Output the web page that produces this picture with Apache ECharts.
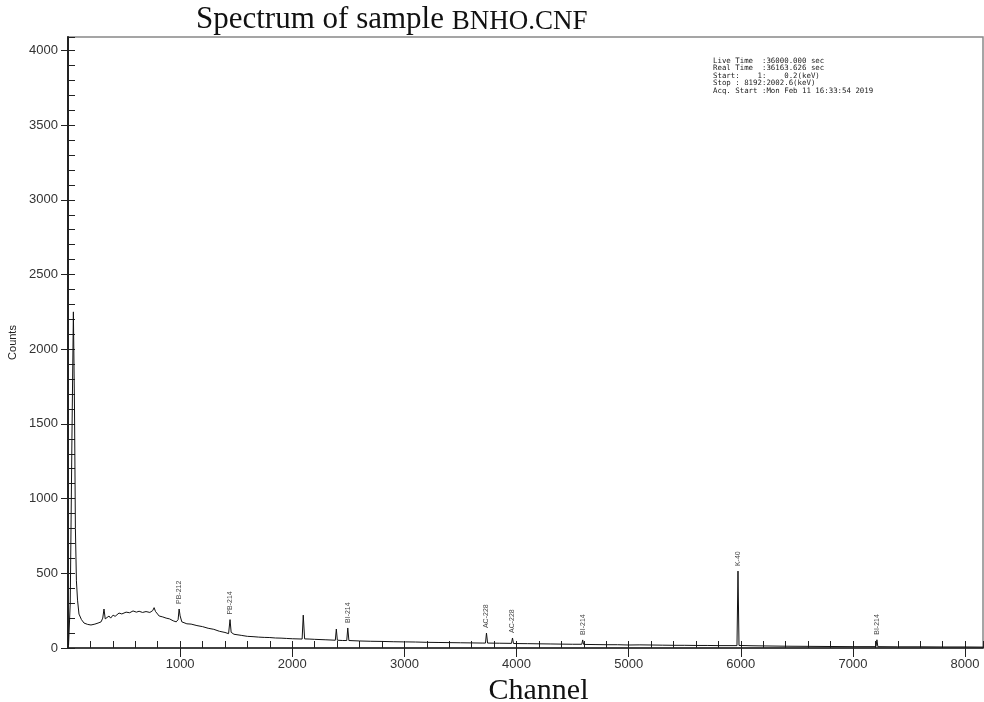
<!DOCTYPE html>
<html>
<head>
<meta charset="utf-8">
<script src="https://cdn.jsdelivr.net/npm/echarts@6/dist/echarts.min.js"></script>
<style>
  html, body { margin: 0; padding: 0; background: #fff; }
  #charts { width: 984px; height: 702px; }
</style>
</head>
<body>
<div id="charts"></div>
<script>
// spectrum (channel -> counts)
const channels = [
  5, 20, 35, 48, 58, 66, 75, 85, 98, 120, 143, 175, 205, 240, 268, 295, 310, 321, 332, 345,
  366, 380, 402, 420, 455, 480, 518, 550, 580, 610, 634, 665, 696, 730, 755, 768, 780, 813, 845, 875,
  905, 938, 965, 982, 991, 1000, 1015, 1027, 1060, 1098, 1150, 1200, 1250, 1300, 1350, 1400, 1432, 1445, 1455, 1480,
  1550, 1600, 1650, 1700, 1750, 1800, 1850, 1900, 1950, 2000, 2088, 2098, 2110, 2150, 2200, 2300, 2384, 2393, 2402, 2450,
  2486, 2495, 2505, 2600, 2700, 2800, 2900, 2990, 3000, 3010, 3100, 3200, 3300, 3400, 3500, 3600, 3700, 3723, 3732, 3742,
  3850, 3955, 3964, 3973, 4100, 4200, 4300, 4400, 4500, 4582, 4590, 4598, 4700, 4800, 4900, 5000, 5100, 5200, 5300, 5400,
  5500, 5600, 5700, 5800, 5966, 5975, 5984, 6100, 6200, 6400, 6600, 6800, 7000, 7206, 7214, 7222, 7400, 7600, 7800, 8000,
  8160
]
const counts = [
  20, 300, 1400, 2250, 1600, 800, 450, 320, 227, 190, 167, 158, 154, 160, 167, 175, 200, 261, 195, 185,
  214, 200, 220, 212, 234, 228, 240, 236, 248, 240, 246, 238, 244, 238, 250, 270, 245, 214, 208, 200,
  195, 182, 175, 190, 261, 215, 175, 167, 162, 160, 150, 143, 132, 125, 112, 104, 96, 190, 105, 92,
  84, 78, 76, 73, 71, 70, 67, 66, 64, 62, 60, 220, 61, 60, 58, 55, 52, 127, 52, 50,
  50, 134, 50, 47, 45, 44, 42, 41, 50, 41, 40, 38, 37, 36, 35, 34, 33, 33, 100, 33,
  32, 31, 67, 30, 29, 28, 27, 26, 25, 25, 54, 24, 23, 22, 22, 20, 21, 20, 19, 18,
  18, 17, 17, 16, 16, 515, 17, 15, 14, 12, 11, 10, 9, 9, 55, 9, 8, 8, 7, 7,
  6
]

// labelled peaks
const peakNames = ['PB-212', 'PB-214', 'BI-214', 'AC-228', 'AC-228', 'BI-214', 'K-40', 'BI-214']
const peakChannels = [991, 1445, 2495, 3732, 3964, 4590, 5975, 7214]
const peakCounts = [261, 190, 134, 100, 67, 54, 515, 55]

const infoLines = [
  'Live Time  :36000.000 sec',
  'Real Time  :36163.626 sec',
  'Start:    1:    0.2(keV)',
  'Stop : 8192:2002.6(keV)',
  'Acq. Start :Mon Feb 11 16:33:54 2019'
]

const chart = echarts.init(document.getElementById('charts'))

const specData = channels.map((c, i) => [c, counts[i]])
const peakData = peakChannels.map((c, i) => ({name: peakNames[i], value: [c, peakCounts[i]]}))

const tickFont = {fontFamily: 'Liberation Sans', fontSize: 13, color: '#333'}
const plain = v => String(v)

chart.setOption({
  animation: false,
  backgroundColor: '#fff',
  title: [
    {
      text: '{a|Spectrum of sample }{b|BNHO.CNF}',
      left: 196,
      top: 1,
      padding: 0,
      textStyle: {
        rich: {
          a: {fontFamily: 'Liberation Serif', fontSize: 31, fontWeight: 'normal', color: '#111', verticalAlign: 'bottom', lineHeight: 34},
          b: {fontFamily: 'Liberation Serif', fontSize: 27, fontWeight: 'normal', color: '#111', verticalAlign: 'bottom', lineHeight: 31.5}
        }
      }
    },
    {
      text: infoLines.join('\n'),
      left: 713,
      top: 57,
      padding: 0,
      textStyle: {fontFamily: 'DejaVu Sans Mono', fontSize: 7.4, fontWeight: 'normal', color: '#222', lineHeight: 7.5}
    }
  ],
  grid: {
    left: 68,
    right: 1,
    top: 37,
    bottom: 54,
    outerBoundsMode: 'none',
    show: true,
    borderColor: '#888',
    borderWidth: 1.5
  },
  xAxis: [
    {
      type: 'value',
      position: 'bottom',
      min: 0,
      max: 8160,
      interval: 1000,
      name: 'Channel',
      nameLocation: 'middle',
      nameGap: 14,
      nameTextStyle: {fontFamily: 'Liberation Serif', fontSize: 30, color: '#111', padding: [0, 0, 0, 26]},
      axisLine: {show: true, lineStyle: {color: '#222', width: 1.5}},
      axisTick: {show: true, inside: false, length: 9, lineStyle: {color: '#222'}},
      axisLabel: {show: true, margin: 10, showMinLabel: false, showMaxLabel: false, formatter: plain, ...tickFont},
      splitLine: {show: false}
    },
    {
      type: 'value',
      position: 'bottom',
      min: 0,
      max: 8160,
      interval: 1000,
      axisLine: {show: false},
      axisTick: {show: true, inside: true, length: 7, lineStyle: {color: '#222'}},
      minorTick: {show: true, splitNumber: 5, length: 7, lineStyle: {color: '#222'}},
      axisLabel: {show: false},
      splitLine: {show: false}
    }
  ],
  yAxis: [
    {
      type: 'value',
      position: 'left',
      min: 0,
      max: 4090,
      interval: 500,
      name: 'Counts',
      nameLocation: 'middle',
      nameGap: 46,
      nameTextStyle: {fontFamily: 'Liberation Sans', fontSize: 11, color: '#222'},
      axisLine: {show: true, lineStyle: {color: '#222', width: 2}},
      axisTick: {show: true, inside: false, length: 7, lineStyle: {color: '#222'}},
      axisLabel: {show: true, margin: 10, showMaxLabel: false, formatter: plain, ...tickFont},
      splitLine: {show: false}
    },
    {
      type: 'value',
      position: 'left',
      min: 0,
      max: 4090,
      interval: 500,
      axisLine: {show: false},
      axisTick: {show: true, inside: true, length: 7, lineStyle: {color: '#222'}},
      minorTick: {show: true, splitNumber: 5, length: 7, lineStyle: {color: '#222'}},
      axisLabel: {show: false},
      splitLine: {show: false}
    }
  ],
  series: [
    {
      name: 'spectrum',
      type: 'line',
      xAxisIndex: 0,
      yAxisIndex: 0,
      showSymbol: false,
      symbol: 'none',
      lineStyle: {color: '#111', width: 1},
      data: specData
    },
    {
      name: 'peaks',
      type: 'scatter',
      xAxisIndex: 0,
      yAxisIndex: 0,
      symbolSize: 0,
      label: {
        show: true,
        formatter: '{b}',
        position: 'top',
        distance: 5,
        rotate: 90,
        align: 'left',
        verticalAlign: 'middle',
        fontFamily: 'Liberation Sans',
        fontSize: 7,
        color: '#111'
      },
      data: peakData
    }
  ]
})
</script>
</body>
</html>
